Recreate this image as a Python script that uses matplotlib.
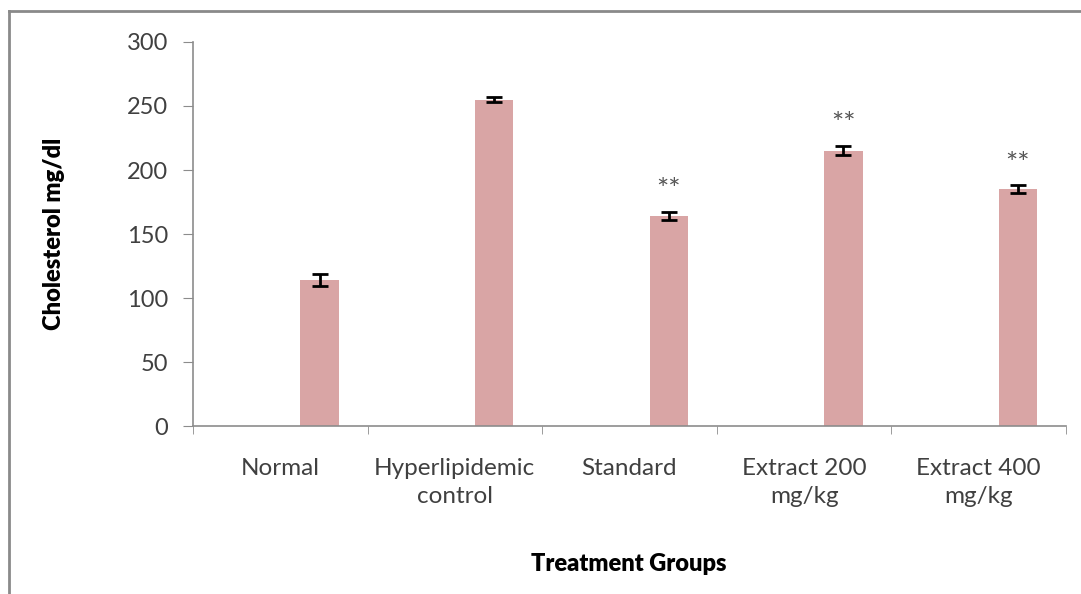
import matplotlib.pyplot as plt
import numpy as np
from matplotlib.lines import Line2D

# -----------------------------------------------------------------------------
# DATA
# -----------------------------------------------------------------------------

groups = ["Normal", "Hyperlipidemic\ncontrol", "Standard", "Extract 200\nmg/kg", "Extract 400\nmg/kg"]
cholesterol = [114, 255, 164, 215, 185]
cholesterol_err = [4.5, 2, 3, 3.5, 3]
significance = ["", "", "**", "**", "**"]

BAR_COLOR = "#D9A5A5"
AXIS_GRAY = "#8C8C8C"
TEXT_GRAY = "#404040"

plt.rcParams["font.family"] = ["Lato", "DejaVu Sans"]

fig = plt.figure(figsize=(10.81, 5.94), dpi=100)
ax = fig.add_axes([0.1785, 0.2828, 0.8076, 0.6465])

# outer chart frame (only top and left edges fall inside the canvas)
fig.add_artist(Line2D([9 / 1081, 1.0], [1 - 11 / 594] * 2, color="#8A8A8A", lw=2))
fig.add_artist(Line2D([9 / 1081] * 2, [0.0, 1 - 11 / 594], color="#8A8A8A", lw=2))

x = np.arange(len(groups))
offset, width = 0.225, 0.22
ax.bar(x + offset, cholesterol, width=width, color=BAR_COLOR, edgecolor="none", zorder=2)
ax.errorbar(x + offset, cholesterol, yerr=cholesterol_err, fmt="none", ecolor="black",
            elinewidth=2, capsize=6, capthick=2, zorder=3)

for xi, val, err, mark in zip(x, cholesterol, cholesterol_err, significance):
    if mark:
        ax.annotate(mark, xy=(xi + offset, val + err), xytext=(0, 15), textcoords="offset points",
                    ha="center", va="center", fontsize=21, color="#555555")

ax.set_xlim(-0.5, len(groups) - 0.5)
ax.set_ylim(0, 300)
ax.set_yticks(np.arange(0, 301, 50))

# category labels at centres, tick marks on category boundaries
ax.set_xticks(x)
ax.set_xticklabels(groups, fontsize=17.5, color=TEXT_GRAY, linespacing=1.4)
ax.set_xticks(np.arange(-0.5, len(groups)), minor=True)
ax.tick_params(axis="x", which="major", length=0, pad=23)
ax.tick_params(axis="x", which="minor", length=6, color=AXIS_GRAY, direction="out")
ax.tick_params(axis="y", length=7, color=AXIS_GRAY, pad=11, labelsize=17, labelcolor=TEXT_GRAY)

for side in ["top", "right"]:
    ax.spines[side].set_visible(False)
for side in ["left", "bottom"]:
    ax.spines[side].set_color(AXIS_GRAY)
    ax.spines[side].set_linewidth(1.2)

ax.set_ylabel("Cholesterol mg/dl", fontsize=17, fontweight="heavy", color="black")
ax.yaxis.set_label_coords(-0.1466, 0.5)
ax.set_xlabel("Treatment Groups", fontsize=17, fontweight="heavy", color="black")
ax.xaxis.set_label_coords(0.4995, -0.331)

fig.savefig("out.png", dpi=100)
